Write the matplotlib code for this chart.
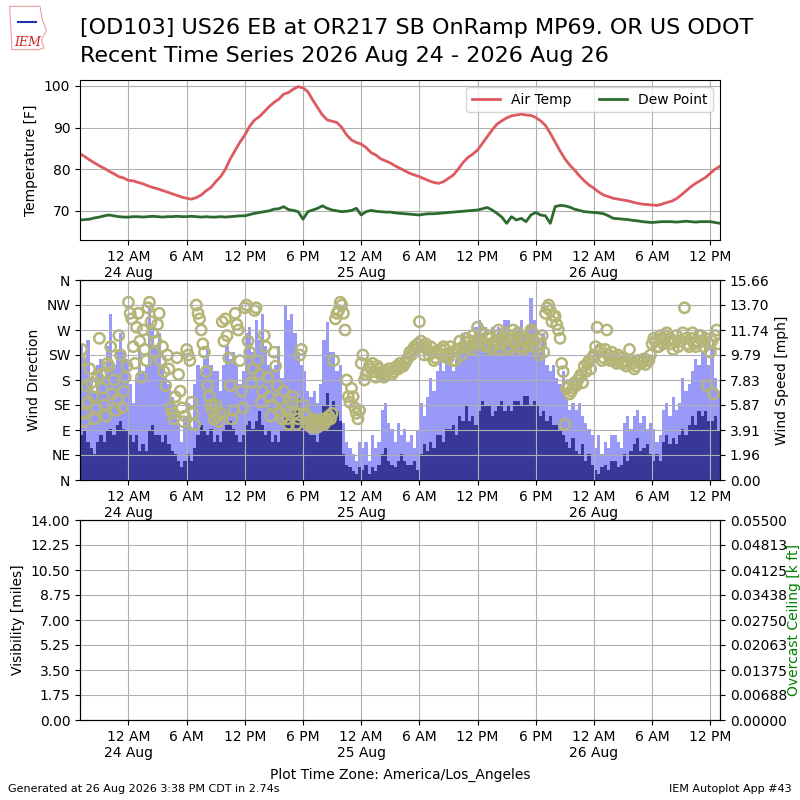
import numpy as np
import pandas as pd
import matplotlib
matplotlib.use("Agg")
import matplotlib.pyplot as plt
import matplotlib.dates as mdates
from matplotlib.ticker import FixedLocator, FuncFormatter

# station and period
station_title = "[OD103] US26 EB at OR217 SB OnRamp MP69. OR US ODOT"
period_title = "Recent Time Series 2026 Aug 24 - 2026 Aug 26"
start_time = "2026-08-23 19:00"
end_time = "2026-08-26 13:00"

# air temperature / dew point [F], every 30 minutes from start_time
air_temp = [
    83.7, 83.0, 82.2, 81.5, 80.8, 80.2, 79.5, 78.9, 78.2, 77.9,
    77.3, 77.2, 76.8, 76.5, 76.0, 75.6, 75.3, 74.9, 74.5, 74.1,
    73.7, 73.3, 73.0, 72.8, 73.2, 73.8, 74.8, 75.6, 77.0, 78.2,
    80.0, 82.5, 84.5, 86.5, 88.2, 90.3, 91.8, 92.6, 93.8, 95.0,
    96.0, 96.8, 98.0, 98.4, 99.2, 99.8, 99.5, 98.6, 96.6, 94.8,
    93.0, 91.8, 91.5, 91.2, 90.0, 88.2, 87.0, 86.4, 86.0, 85.2,
    84.0, 83.4, 82.5, 82.0, 81.5, 80.8, 80.2, 79.6, 79.0, 78.6,
    78.2, 77.7, 77.2, 76.8, 76.6, 77.0, 77.8, 78.6, 80.0, 81.6,
    82.8, 83.6, 84.6, 86.2, 87.8, 89.4, 90.8, 91.6, 92.3, 92.8,
    93.0, 93.2, 93.0, 92.9, 92.4, 91.6, 90.5, 88.6, 86.5, 84.4,
    82.5, 81.0, 79.8, 78.4, 77.2, 76.2, 75.4, 74.5, 73.8, 73.4,
    73.0, 72.8, 72.6, 72.4, 72.1, 71.8, 71.6, 71.5, 71.4, 71.3,
    71.6, 72.0, 72.3, 72.9, 73.8, 74.8, 75.8, 76.6, 77.3, 78.0,
    79.0, 80.0, 80.7,
]
dew_point = [
    67.8, 67.9, 68.0, 68.3, 68.5, 68.8, 69.0, 68.8, 68.6, 68.5,
    68.5, 68.6, 68.6, 68.5, 68.6, 68.7, 68.6, 68.5, 68.6, 68.6,
    68.7, 68.6, 68.6, 68.7, 68.6, 68.5, 68.6, 68.5, 68.5, 68.6,
    68.5, 68.6, 68.7, 68.8, 68.8, 69.1, 69.4, 69.6, 69.8, 70.0,
    70.4, 70.5, 71.0, 70.3, 70.1, 69.8, 68.0, 69.8, 70.2, 70.6,
    71.2, 70.6, 70.2, 70.0, 69.8, 69.9, 70.1, 70.6, 69.0, 69.8,
    70.1, 69.9, 69.8, 69.7, 69.7, 69.5, 69.4, 69.3, 69.2, 69.1,
    69.0, 69.2, 69.3, 69.3, 69.4, 69.5, 69.6, 69.7, 69.8, 69.9,
    70.0, 70.1, 70.2, 70.5, 70.8, 70.2, 69.4, 68.5, 67.0, 68.6,
    67.8, 68.2, 67.4, 69.0, 69.6, 69.0, 68.8, 67.0, 71.0, 71.3,
    71.2, 70.9, 70.4, 70.1, 69.8, 69.7, 69.6, 69.5, 69.3, 68.8,
    68.2, 68.1, 68.0, 67.9, 67.7, 67.6, 67.4, 67.3, 67.2, 67.3,
    67.4, 67.4, 67.4, 67.3, 67.4, 67.5, 67.4, 67.3, 67.4, 67.4,
    67.4, 67.2, 67.0,
]

# wind direction [deg], every 10 minutes from start_time (one row = one hour)
wind_dir = [
    215, 235, 120, 105, 170, 140,
    200, 175, 150, 110, 130, 185,
    255, 190, 165, 135, 115, 210,
    205, 240, 155, 180, 125, 145,
    260, 225, 130, 160, 185, 205,
    320, 300, 290, 240, 210, 275,
    300, 250, 185, 270, 235, 215,
    310, 320, 285, 265, 230, 250,
    280, 300, 215, 240, 195, 170,
    225, 200, 130, 120, 110, 150,
    220, 190, 160, 130, 105, 115,
    235, 225, 215, 140, 120, 100,
    315, 300, 290, 270, 245, 230,
    195, 170, 150, 135, 125, 110,
    135, 115, 105, 120, 285, 250,
    290, 260, 220, 170, 110, 125,
    300, 280, 270, 215, 160, 130,
    310, 315, 250, 230, 175, 200,
    305, 310, 215, 190, 140, 160,
    260, 240, 185, 150, 115, 135,
    230, 205, 170, 145, 120, 110,
    160, 130, 110, 100, 125, 140,
    150, 120, 100, 110, 225, 235,
    135, 120, 115, 100, 105, 95,
    110, 105, 100, 95, 105, 100,
    110, 100, 105, 108, 115, 110,
    120, 215, 290, 300, 305, 320,
    315, 300, 270, 180, 150, 140,
    165, 150, 130, 120, 110, 125,
    210, 225, 180, 190, 195, 205,
    200, 210, 195, 185, 205, 200,
    190, 195, 185, 190, 195, 200,
    200, 190, 195, 200, 205, 200,
    210, 205, 205, 210, 215, 220,
    230, 225, 235, 240, 240, 245,
    285, 250, 240, 225, 245, 235,
    225, 240, 230, 215, 220, 230,
    228, 235, 225, 240, 235, 220,
    220, 240, 230, 215, 215, 235,
    235, 250, 225, 240, 240, 255,
    240, 250, 235, 260, 250, 245,
    275, 255, 250, 265, 245, 240,
    245, 260, 255, 235, 240, 250,
    260, 270, 235, 245, 250, 265,
    255, 240, 235, 260, 270, 245,
    250, 265, 240, 255, 235, 250,
    255, 240, 245, 270, 265, 250,
    240, 255, 225, 245, 260, 230,
    300, 310, 315, 305, 285, 295,
    295, 280, 270, 255, 210, 195,
    100, 165, 170, 155, 160, 165,
    175, 170, 180, 185, 190, 175,
    205, 195, 210, 215, 200, 220,
    225, 240, 275, 230, 235, 215,
    220, 235, 270, 225, 215, 230,
    215, 220, 210, 225, 220, 210,
    210, 215, 205, 210, 235, 215,
    210, 200, 205, 215, 215, 210,
    212, 218, 208, 215, 215, 225,
    245, 255, 250, 240, 240, 260,
    255, 245, 260, 265, 250, 255,
    245, 235, 250, 260, 240, 250,
    250, 265, 310, 255, 245, 240,
    255, 265, 245, 240, 250, 260,
    260, 250, 240, 255, 170, 245,
    230, 250, 155, 260, 270, 245,
]

# wind speed and gust [mph], every 20 minutes from start_time
wind_speed = [
    3.5, 3.8, 3.0, 2.5, 2.0, 3.0, 3.5, 3.0, 3.8, 4.0, 3.5, 4.3,
    4.6, 4.0, 3.8, 3.5, 3.0, 3.5, 2.3, 2.8, 2.3, 3.8, 4.3, 3.5,
    3.5, 3.0, 3.5, 2.8, 2.3, 2.0, 1.5, 1.0, 1.5, 2.0, 1.5, 2.5,
    3.5, 4.3, 3.8, 3.5, 4.0, 3.0, 3.5, 3.0, 3.8, 4.3, 4.6, 4.0,
    3.5, 3.0, 3.5, 4.3, 4.6, 4.0, 4.6, 5.4, 4.3, 3.5, 3.8, 3.0,
    3.5, 3.0, 3.8, 5.4, 4.6, 5.0, 5.4, 6.4, 4.6, 4.3, 4.0, 3.5,
    3.5, 3.0, 3.8, 5.8, 6.8, 5.4, 6.2, 5.4, 4.6, 2.0, 1.2, 1.0,
    0.7, 0.5, 1.0, 0.8, 1.2, 0.5, 1.0, 0.7, 1.2, 2.0, 2.5, 1.5,
    1.2, 1.0, 1.5, 2.0, 1.5, 1.2, 1.2, 1.5, 0.8, 2.0, 2.8, 2.3,
    3.0, 2.5, 3.5, 3.5, 3.0, 4.0, 4.0, 4.3, 3.5, 5.0, 4.6, 5.8,
    4.6, 5.0, 4.3, 5.4, 6.2, 5.8, 5.8, 5.0, 5.4, 5.8, 6.2, 5.4,
    5.8, 5.4, 6.2, 6.2, 5.8, 6.6, 6.6, 5.8, 6.2, 5.8, 5.0, 5.4,
    4.6, 5.0, 4.3, 4.3, 3.8, 3.5, 3.0, 2.5, 3.3, 2.3, 2.0, 2.8,
    1.5, 2.0, 1.2, 0.8, 0.5, 1.0, 1.2, 0.8, 1.5, 1.5, 1.0, 1.2,
    2.0, 1.5, 2.3, 2.8, 3.3, 2.3, 2.5, 2.8, 2.0, 1.5, 2.0, 1.5,
    3.0, 3.5, 2.8, 3.3, 2.8, 3.5, 4.0, 3.5, 4.3, 5.0, 4.3, 5.4,
    5.0, 5.4, 4.6, 4.6, 5.0, 3.8,
]
wind_gust = [
    10.6, 9.5, 11.0, 8.0, 6.8, 9.0, 9.5, 8.0, 10.5, 13.0, 9.0, 10.0,
    11.5, 10.0, 9.5, 7.5, 6.0, 8.0, 10.5, 8.5, 9.0, 13.7, 12.0, 10.5,
    11.5, 9.0, 8.0, 7.5, 6.5, 5.5, 4.5, 3.0, 5.0, 6.0, 4.0, 7.5,
    9.0, 8.5, 9.5, 10.5, 9.0, 8.5, 8.5, 7.0, 9.0, 10.5, 9.5, 10.0,
    9.0, 7.5, 8.5, 11.5, 12.0, 10.0, 12.5, 11.0, 13.0, 10.5, 9.0, 8.5,
    9.0, 10.5, 8.0, 13.7, 12.5, 13.0, 11.5, 10.0, 9.0, 8.5, 7.0, 6.5,
    7.0, 6.0, 7.5, 11.0, 12.4, 10.0, 10.0, 8.5, 9.0, 4.5, 3.0, 2.5,
    2.0, 1.5, 3.0, 2.5, 3.0, 1.5, 3.5, 2.5, 3.0, 5.5, 6.0, 4.5,
    4.0, 3.0, 4.5, 3.5, 4.0, 3.0, 3.5, 2.5, 3.8, 6.0, 5.0, 6.5,
    8.0, 7.0, 8.5, 9.5, 8.5, 10.0, 10.0, 8.5, 9.5, 10.5, 11.5, 10.0,
    11.0, 10.5, 12.0, 12.5, 11.5, 12.0, 11.0, 12.0, 10.5, 12.0, 11.5, 12.5,
    12.5, 11.0, 11.5, 12.0, 12.5, 11.5, 12.0, 14.235, 12.5, 11.0, 10.0, 11.5,
    9.0, 8.5, 9.0, 8.0, 7.5, 8.5, 6.5, 5.5, 6.0, 5.5, 6.0, 5.0,
    4.5, 4.0, 3.5, 2.5, 3.5, 2.0, 3.0, 2.5, 3.5, 3.5, 3.0, 2.5,
    4.5, 5.0, 4.0, 5.0, 5.5, 4.5, 5.0, 4.0, 4.5, 4.0, 3.0, 3.5,
    5.5, 6.0, 5.0, 6.5, 5.5, 6.0, 8.0, 7.0, 7.5, 8.5, 9.5, 9.0,
    10.0, 10.5, 9.0, 10.5, 8.0, 7.0,
]

dir_labels = ["N", "NE", "E", "SE", "S", "SW", "W", "NW", "N"]
vis_max = 14.0
ceiling_max = 0.055

temp_times = pd.date_range(start_time, periods=len(air_temp), freq="30min")
dir_times = pd.date_range(start_time, periods=len(wind_dir), freq="10min")
speed_times = pd.date_range(start_time, periods=len(wind_speed), freq="20min")


def time_label(x, pos=None):
    dt = mdates.num2date(x)
    if dt.hour == 0:
        return "12 AM\n" + dt.strftime("%d %b")
    if dt.hour == 12:
        return "12 PM"
    if dt.hour < 12:
        return "%d AM" % dt.hour
    return "%d PM" % (dt.hour - 12)


def setup_time_axis(ax):
    ax.set_xlim(pd.Timestamp(start_time), pd.Timestamp(end_time))
    ax.xaxis.set_major_locator(mdates.HourLocator(byhour=[0, 6, 12, 18]))
    ax.xaxis.set_major_formatter(FuncFormatter(time_label))
    ax.grid(True)


fig = plt.figure(figsize=(8, 8), dpi=100)

fig.text(0.1, 0.965, station_title, fontsize=16, va="center", ha="left")
fig.text(0.1, 0.930, period_title, fontsize=16, va="center", ha="left")

# rough stand-in for the IEM logo
logo_x = [0.012, 0.05, 0.053, 0.058, 0.052, 0.055, 0.048, 0.015, 0.012]
logo_y = [0.992, 0.992, 0.975, 0.962, 0.950, 0.940, 0.938, 0.938, 0.992]
fig.add_artist(plt.Line2D(logo_x, logo_y, color="#f0a0a0", lw=0.8))
fig.text(0.034, 0.947, "IEM", fontsize=9, color="#cc2222", family="DejaVu Serif",
         style="italic", ha="center", va="center")
fig.add_artist(plt.Line2D([0.022, 0.045], [0.972, 0.972], color="#2233aa", lw=1.5))

# temperature panel
ax1 = fig.add_axes([0.1, 0.7, 0.8, 0.2])
ax1.plot(temp_times, air_temp, color="#dc5a60", lw=2, label="Air Temp")
ax1.plot(temp_times, dew_point, color="#2d6a30", lw=2, label="Dew Point")
ax1.set_ylim(min(dew_point) - 4, max(air_temp) + 1.6)
ax1.set_ylabel("Temperature [F]")
setup_time_axis(ax1)
ax1.legend(loc="upper right", ncol=2, fontsize=10)

# wind panel
ax2 = fig.add_axes([0.1, 0.4, 0.8, 0.25])
ax2b = ax2.twinx()
bar_width = 20.0 / 1440.0
ax2b.bar(speed_times, wind_gust, width=bar_width, align="edge", color="#9999f8", lw=0)
ax2b.bar(speed_times, wind_speed, width=bar_width, align="edge", color="#373898", lw=0)
smax = max(wind_gust) * 1.1
ax2b.set_ylim(0, smax)
ax2b.yaxis.set_major_locator(FixedLocator(np.linspace(0, smax, 9)))
ax2b.yaxis.set_major_formatter(FuncFormatter(lambda v, p: "%.2f" % v))
ax2b.set_ylabel("Wind Speed [mph]")
ax2.set_zorder(ax2b.get_zorder() + 1)
ax2.patch.set_visible(False)
ax2.scatter(dir_times, wind_dir, s=55, facecolors="none", edgecolors="#b5b577", lw=1.8)
ax2.set_ylim(0, 360)
ax2.set_yticks(np.arange(0, 361, 45))
ax2.set_yticklabels(dir_labels)
ax2.set_ylabel("Wind Direction")
setup_time_axis(ax2)
ax2b.set_xlim(ax2.get_xlim())

# visibility / ceiling panel (no observations)
ax3 = fig.add_axes([0.1, 0.1, 0.8, 0.25])
ax3.set_ylim(0, vis_max)
ax3.yaxis.set_major_locator(FixedLocator(np.linspace(0, vis_max, 9)))
ax3.yaxis.set_major_formatter(FuncFormatter(lambda v, p: "%.2f" % v))
ax3.set_ylabel("Visibility [miles]")
setup_time_axis(ax3)
ax3b = ax3.twinx()
ax3b.set_ylim(0, ceiling_max)
ax3b.yaxis.set_major_locator(FixedLocator(np.linspace(0, ceiling_max, 9)))
ax3b.yaxis.set_major_formatter(FuncFormatter(lambda v, p: "%.5f" % v))
ax3b.set_ylabel("Overcast Ceiling [k ft]", color="green", labelpad=0)

fig.text(0.5, 0.031, "Plot Time Zone: America/Los_Angeles", ha="center", va="center",
         fontsize=10)
fig.text(0.01, 0.014, "Generated at 26 Aug 2026 3:38 PM CDT in 2.74s", fontsize=8,
         va="center")
fig.text(0.99, 0.014, "IEM Autoplot App #43", fontsize=8, ha="right", va="center")

fig.savefig("out.png", dpi=100)
